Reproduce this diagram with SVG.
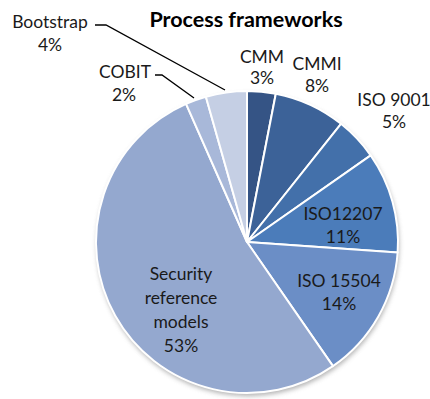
<svg xmlns="http://www.w3.org/2000/svg" width="430" height="399" viewBox="0 0 430 399">
<style>
.s{stroke:#fff;stroke-width:2;stroke-linejoin:round}
.t{font-family:Lato,"Liberation Sans",sans-serif;font-size:17.5px;fill:#1a1a1a;text-anchor:middle}
.title{font-family:Lato,"Liberation Sans",sans-serif;font-size:21.5px;font-weight:bold;fill:#000;text-anchor:middle}
.ld{fill:none;stroke:#000;stroke-width:1.3}
</style>
<defs>
<filter id="sh" x="-20%" y="-20%" width="140%" height="140%"><feGaussianBlur stdDeviation="2.5"/></filter>
</defs>
<rect width="430" height="399" fill="#fff"/>
<text class="title" x="246" y="27">Process frameworks</text>
<circle cx="248" cy="245" r="151" fill="#7a7a7a" filter="url(#sh)" opacity="0.6"/>
<g id="cmm"><path class="s" fill="#355485" d="M247,242 L247,91 A151,151 0 0 1 275.81,93.77 Z"/><text class="t" x="262" y="63"><tspan x="262">CMM</tspan><tspan x="262" dy="21">3%</tspan></text></g>
<g id="cmmi"><path class="s" fill="#3c6298" d="M247,242 L275.81,93.77 A151,151 0 0 1 341,123.83 Z"/><text class="t" x="317" y="70"><tspan x="317">CMMI</tspan><tspan x="317" dy="22">8%</tspan></text></g>
<g id="iso9001"><path class="s" fill="#4370aa" d="M247,242 L341,123.83 A151,151 0 0 1 370.69,155.39 Z"/><text class="t" x="394" y="106"><tspan x="394">ISO 9001</tspan><tspan x="394" dy="22">5%</tspan></text></g>
<g id="iso12207"><path class="s" fill="#4b7cba" d="M247,242 L370.69,155.39 A151,151 0 0 1 397.63,252.53 Z"/><text class="t" x="343" y="220"><tspan x="343">ISO12207</tspan><tspan x="343" dy="23">11%</tspan></text></g>
<g id="iso15504"><path class="s" fill="#6b8ec6" d="M247,242 L397.63,252.53 A151,151 0 0 1 332.96,366.14 Z"/><text class="t" x="339" y="287"><tspan x="339">ISO 15504</tspan><tspan x="339" dy="23">14%</tspan></text></g>
<g id="security"><path class="s" fill="#94a8cf" d="M247,242 L332.96,366.14 A151,151 0 1 1 186.06,103.84 Z"/><text class="t" x="181" y="280"><tspan x="181">Security</tspan><tspan x="181" dy="24">reference</tspan><tspan x="181" dy="24">models</tspan><tspan x="181" dy="24">53%</tspan></text></g>
<g id="cobit"><path class="s" fill="#a8b8d9" d="M247,242 L186.06,103.84 A151,151 0 0 1 205.89,96.7 Z"/><text class="t" x="125" y="78"><tspan x="125">COBIT</tspan><tspan x="124" dy="23">2%</tspan></text></g>
<g id="bootstrap"><path class="s" fill="#c5cfe4" d="M247,242 L205.89,96.7 A151,151 0 0 1 247,91 Z"/><text class="t" x="50" y="28"><tspan x="50">Bootstrap</tspan><tspan x="50" dy="23">4%</tspan></text></g>
<g id="connectors">
<path class="ld" d="M95,25 H106 L225,90"/>
<path class="ld" d="M155,75 H162 L194,98"/>
</g>
</svg>
